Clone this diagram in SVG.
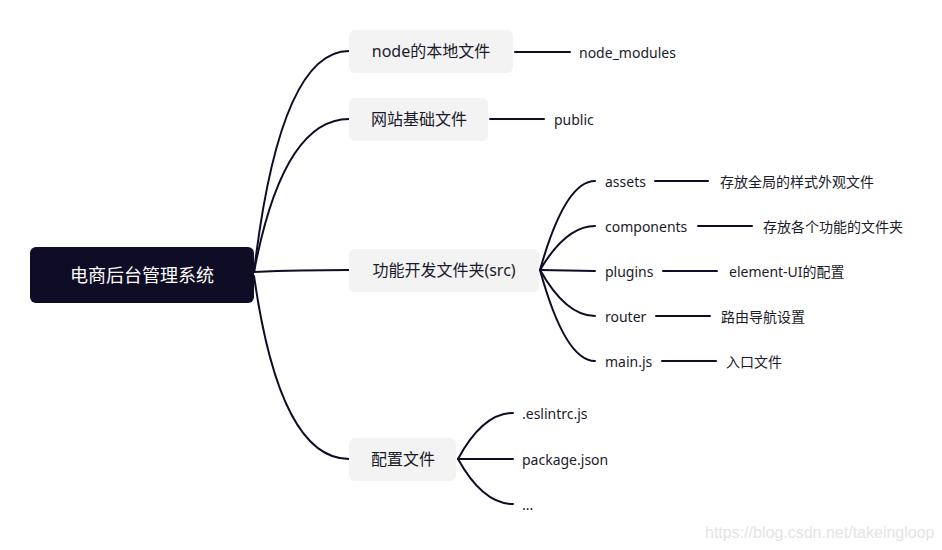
<svg xmlns="http://www.w3.org/2000/svg" width="942" height="550" viewBox="0 0 942 550">
<style>
.bg{fill:#ffffff}
.root{fill:#0f0d25}
.box{fill:#f3f3f3}
.ln{fill:none;stroke:#0f0d25;stroke-width:2;stroke-linecap:round}
.t{font-family:"Noto Sans","Noto Sans CJK SC",sans-serif;fill:#1a1a2a;dominant-baseline:central}
.rt{font-size:18px;fill:#ffffff;text-anchor:middle}
.n1{font-size:16px;text-anchor:middle}
.n2{font-size:14px}
.n3{font-size:14px}
.wm{font-family:"Liberation Sans",Arial,sans-serif;font-size:16px;fill:#e4e4e4}
</style>
<rect class="bg" x="0" y="0" width="942" height="550"/>
<g id="connectors">
  <path class="ln" d="M254 272 Q280 51 349 51"/>
  <path class="ln" d="M254 272 Q283 119 349 119"/>
  <path class="ln" d="M254 272 Q300 270 349 270"/>
  <path class="ln" d="M254 276 Q280 459 349 459"/>
  <path class="ln" d="M515 52 L570 52"/>
  <path class="ln" d="M490 119 L544 119"/>
  <path class="ln" d="M540 270 Q565 181 595 181"/>
  <path class="ln" d="M540 270 Q566 226 595 226"/>
  <path class="ln" d="M540 270 L595 271"/>
  <path class="ln" d="M540 270 Q566 316 595 316"/>
  <path class="ln" d="M540 270 Q565 361 595 361"/>
  <path class="ln" d="M655 181 L708 181"/>
  <path class="ln" d="M698 226 L752 226"/>
  <path class="ln" d="M663 271 L717 271"/>
  <path class="ln" d="M656 316 L710 316"/>
  <path class="ln" d="M662 361 L716 361"/>
  <path class="ln" d="M458 459 Q483 413 513 413"/>
  <path class="ln" d="M458 459 L513 459"/>
  <path class="ln" d="M458 459 Q483 504 513 504"/>
</g>
<g id="root">
  <rect class="root" x="30" y="247" width="224" height="56" rx="6"/>
  <text class="t rt" x="142" y="275">电商后台管理系统</text>
</g>
<g id="node-local">
  <rect class="box" x="349" y="30" width="164" height="43" rx="6"/>
  <text class="t n1" x="431" y="51">node的本地文件</text>
</g>
<g id="node-modules"><text class="t n2" x="579" y="52">node_modules</text></g>
<g id="node-site">
  <rect class="box" x="349" y="98" width="139" height="43" rx="6"/>
  <text class="t n1" x="419" y="119">网站基础文件</text>
</g>
<g id="node-public"><text class="t n2" x="554" y="119">public</text></g>
<g id="node-src">
  <rect class="box" x="349" y="249" width="190" height="43" rx="6"/>
  <text class="t n1" x="444" y="270">功能开发文件夹(src)</text>
</g>
<g id="node-assets"><text class="t n2" x="605" y="181">assets</text></g>
<g id="node-components"><text class="t n2" x="605" y="226">components</text></g>
<g id="node-plugins"><text class="t n2" x="605" y="271">plugins</text></g>
<g id="node-router"><text class="t n2" x="605" y="316">router</text></g>
<g id="node-main"><text class="t n2" x="605" y="361">main.js</text></g>
<g id="desc-assets"><text class="t n3" x="720" y="181">存放全局的样式外观文件</text></g>
<g id="desc-components"><text class="t n3" x="763" y="226">存放各个功能的文件夹</text></g>
<g id="desc-plugins"><text class="t n3" x="729" y="271">element-UI的配置</text></g>
<g id="desc-router"><text class="t n3" x="721" y="316">路由导航设置</text></g>
<g id="desc-main"><text class="t n3" x="726" y="361">入口文件</text></g>
<g id="node-config">
  <rect class="box" x="349" y="438" width="107" height="43" rx="6"/>
  <text class="t n1" x="403" y="459">配置文件</text>
</g>
<g id="node-eslint"><text class="t n2" x="522" y="413">.eslintrc.js</text></g>
<g id="node-package"><text class="t n2" x="522" y="459">package.json</text></g>
<g id="node-more"><text class="t n2" x="522" y="504">...</text></g>
<text class="wm" x="705" y="538">https://blog.csdn.net/takeingloop</text>
</svg>
